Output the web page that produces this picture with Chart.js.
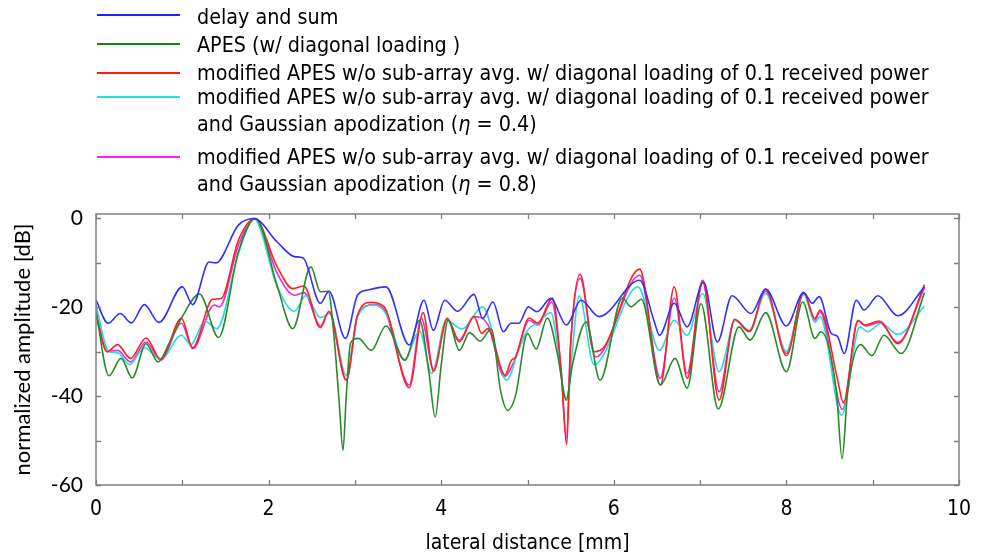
<!DOCTYPE html>
<html>
<head>
<meta charset="utf-8">
<script src="https://cdn.jsdelivr.net/npm/chart.js@4.4.1/dist/chart.umd.min.js"></script>
<style>
  body { margin: 0; background: #fff; }
  #wrap { position: relative; width: 986px; height: 558px; }
  #legend { position: absolute; left: 0; top: 0; width: 986px; height: 200px;
    font-family: "Liberation Sans Narrow", "DejaVu Sans Condensed", sans-serif; font-size: 21.3px; color: #000; }
  .txt { position: absolute; left: 197px; white-space: nowrap; line-height: 24px; }
  .sw { position: absolute; left: 97px; width: 83px; height: 2px; }
</style>
</head>
<body>
<div id="wrap">
  <canvas id="psfChart" width="986" height="558"></canvas>
  <div id="legend">
    <div class="sw" style="top:14px;background:#2020ff"></div>
    <div class="txt" style="top:5px">delay and sum</div>
    <div class="sw" style="top:43px;background:#1a801a"></div>
    <div class="txt" style="top:33px">APES (w/ diagonal loading )</div>
    <div class="sw" style="top:72px;background:#ff1a1a"></div>
    <div class="txt" style="top:61px">modified APES w/o sub-array avg. w/ diagonal loading of 0.1 received power</div>
    <div class="sw" style="top:96px;background:#1ee0e0"></div>
    <div class="txt" style="top:85px">modified APES w/o sub-array avg. w/ diagonal loading of 0.1 received power</div>
    <div class="txt" style="top:112px">and Gaussian apodization (<i>η</i> = 0.4)</div>
    <div class="sw" style="top:156px;background:#ff1aff"></div>
    <div class="txt" style="top:145px">modified APES w/o sub-array avg. w/ diagonal loading of 0.1 received power</div>
    <div class="txt" style="top:172px">and Gaussian apodization (<i>η</i> = 0.8)</div>
  </div>
</div>
<script>
// lateral beam profiles (extrema + a few shoulders)
const dasX = [0, 0.14, 0.28, 0.41, 0.56, 0.73, 1.0, 1.12, 1.31, 1.39, 1.65, 1.83, 2.1, 2.3, 2.4, 2.6, 2.7, 2.89, 3.03, 3.15, 3.36, 3.63, 3.8, 3.91, 4.04, 4.19, 4.38, 4.48, 4.6, 4.72, 4.81, 4.9, 5.01, 5.11, 5.27, 5.45, 5.62, 5.83, 6.3, 6.47, 6.53, 6.7, 6.85, 7.04, 7.2, 7.37, 7.59, 7.76, 8.0, 8.2, 8.3, 8.38, 8.52, 8.59, 8.67, 8.81, 8.9, 9.06, 9.29, 9.6];
const dasY = [-18.4, -23.6, -21.4, -23.5, -19.4, -23.4, -15.4, -19.4, -9.8, -10, -1.5, 0, -5.3, -8.6, -8.9, -19.1, -16.4, -27, -17.3, -16.1, -15.4, -28.5, -18.4, -25.2, -18.4, -20.9, -17.1, -22.5, -18.8, -25.5, -23.6, -23.6, -19.9, -21, -18, -24, -18.4, -22.1, -13.9, -23.3, -26.3, -19.1, -24.4, -14.3, -27.8, -17.4, -21.4, -15.9, -24.2, -16.7, -19.1, -17.6, -25.9, -26.5, -30.4, -18.4, -20.6, -17.4, -21.9, -15.4];

const apesX = [0, 0.15, 0.29, 0.42, 0.58, 0.72, 0.84, 1.0, 1.2, 1.42, 1.65, 1.85, 2.1, 2.28, 2.49, 2.6, 2.69, 2.76, 2.82, 2.862, 2.9, 2.95, 3.04, 3.19, 3.36, 3.58, 3.75, 3.86, 3.93, 4.0, 4.08, 4.21, 4.33, 4.45, 4.58, 4.69, 4.77, 4.86, 5.0, 5.1, 5.23, 5.35, 5.45, 5.52, 5.68, 5.84, 6.1, 6.2, 6.32, 6.54, 6.71, 6.85, 7.01, 7.21, 7.45, 7.58, 7.76, 8.0, 8.19, 8.33, 8.4, 8.58, 8.645, 8.71, 8.86, 8.99, 9.13, 9.33, 9.6];
const apesY = [-21, -35.4, -31.5, -35.9, -28.2, -32.3, -28.4, -22.1, -17, -26.8, -7.5, 0, -15.2, -24.8, -10.9, -16.5, -16.4, -27, -42, -52.2, -40, -28, -27, -29.7, -24.2, -31.9, -22.9, -35, -44.7, -33, -22.9, -29.7, -25.7, -27.6, -24.9, -39, -43.2, -40, -25.9, -29.4, -22.4, -30.8, -40.9, -33, -23.3, -36.4, -17.9, -19.9, -18.2, -37.5, -31.5, -38.2, -19.2, -42.9, -24.4, -27.4, -21.2, -34.5, -18.8, -27, -25.5, -39, -54.1, -39, -28.4, -30.9, -26.3, -30.4, -16.7];

const modX = [0, 0.13, 0.25, 0.4, 0.58, 0.75, 0.99, 1.12, 1.35, 1.45, 1.65, 1.84, 2.1, 2.28, 2.41, 2.6, 2.7, 2.9, 3.03, 3.18, 3.34, 3.63, 3.79, 3.91, 4.07, 4.21, 4.38, 4.47, 4.54, 4.74, 4.81, 4.86, 5.02, 5.12, 5.29, 5.39, 5.454, 5.5, 5.61, 5.77, 5.89, 6.3, 6.54, 6.7, 6.85, 7.03, 7.22, 7.4, 7.57, 7.76, 8.0, 8.2, 8.33, 8.39, 8.59, 8.66, 8.83, 8.91, 9.08, 9.29, 9.6];
const modY = [-21.8, -30, -28.4, -31.5, -26.9, -31.7, -22.5, -29.1, -18.2, -18, -4.9, 0, -10.9, -15.8, -15.2, -24.6, -20.9, -36.4, -21.8, -18.9, -19.9, -38.1, -21.2, -34.4, -22.5, -27.8, -22.1, -25.9, -24.8, -35.3, -32, -31.2, -22.4, -23.6, -17.9, -34.5, -50.9, -28.5, -12.6, -30, -28.9, -11.4, -37.5, -15.4, -36, -13.9, -40.9, -22.7, -25.4, -15.9, -30.9, -16.7, -22.5, -20.6, -36, -41.5, -22.9, -24, -23.1, -28.2, -14.9];

const gau04X = [0, 0.15, 0.25, 0.39, 0.56, 0.75, 0.99, 1.1, 1.26, 1.4, 1.65, 1.83, 2.1, 2.3, 2.43, 2.6, 2.71, 2.9, 3.03, 3.22, 3.38, 3.57, 3.75, 3.89, 4.06, 4.24, 4.48, 4.76, 4.89, 5.0, 5.12, 5.27, 5.45, 5.6, 5.77, 6.28, 6.53, 6.7, 6.85, 7.03, 7.22, 7.41, 7.57, 7.76, 8.0, 8.2, 8.33, 8.39, 8.64, 8.85, 8.94, 9.1, 9.29, 9.6];
const gau04Y = [-19.5, -30, -30.2, -32.9, -29.1, -31.7, -26.3, -28.4, -23.1, -24.8, -7.9, 0, -15.4, -20.9, -17.4, -22.3, -21.4, -35.3, -22.1, -19.5, -22.1, -31.9, -25.4, -34.9, -22.9, -24.9, -19.9, -36.4, -30, -25.2, -23.5, -21.2, -40.4, -17.4, -32.9, -15.4, -29.7, -22.9, -26.3, -16.9, -34.5, -22.9, -25.2, -16.9, -29.9, -17.1, -23.4, -22.1, -44.3, -24.4, -25.5, -23.6, -26.1, -19.7];

const gau08X = [0, 0.13, 0.25, 0.4, 0.58, 0.75, 0.99, 1.12, 1.37, 1.43, 1.65, 1.84, 2.1, 2.3, 2.41, 2.6, 2.7, 2.9, 3.03, 3.22, 3.34, 3.63, 3.77, 3.91, 4.07, 4.21, 4.38, 4.54, 4.73, 4.86, 5.02, 5.12, 5.28, 5.39, 5.45, 5.5, 5.61, 5.79, 6.3, 6.54, 6.7, 6.85, 7.03, 7.22, 7.4, 7.57, 7.76, 8.0, 8.2, 8.33, 8.39, 8.65, 8.83, 8.92, 9.08, 9.29, 9.6];
const gau08Y = [-21, -30, -29.7, -32.3, -27.8, -31.9, -23.6, -29.3, -19.5, -19.9, -6, 0, -12.4, -17.3, -16.7, -24.2, -21, -36.4, -22, -19.4, -20.5, -37.5, -22.5, -33.8, -22.7, -27.4, -22.1, -23.9, -35.6, -31.5, -22.9, -24, -18.8, -34, -49.5, -28, -13.5, -31.2, -12.8, -36, -17.9, -34.9, -14.4, -39, -22.9, -25.5, -16.4, -30.4, -16.9, -22.9, -21, -43, -23.1, -24.2, -23.4, -27.9, -15.6];

const yTicks = [-60, -50, -40, -30, -20, -10, 0];

function pts(xs, ys) {
    return xs.map((x, i) => ({ x: x, y: ys[i] }));
}

function line(label, xs, ys, color) {
    return {
        label: label,
        data: pts(xs, ys),
        borderColor: color,
        borderWidth: 1.6,
        pointRadius: 0,
        cubicInterpolationMode: 'monotone',
        fill: false
    };
}

// gnuplot-like box with inward ticks on all four sides
const framePlugin = {
    id: 'frame',
    afterDraw(chart) {
        const { ctx, chartArea: a, scales } = chart;
        ctx.save();
        ctx.strokeStyle = '#808080';
        ctx.lineWidth = 1.5;
        ctx.strokeRect(a.left, a.top, a.right - a.left, a.bottom - a.top);
        ctx.lineWidth = 1.3;
        ctx.beginPath();
        scales.x.ticks.forEach(t => {
            const px = Math.round(scales.x.getPixelForValue(t.value)) + 0.5;
            ctx.moveTo(px, a.bottom); ctx.lineTo(px, a.bottom - 5);
            ctx.moveTo(px, a.top); ctx.lineTo(px, a.top + 5);
        });
        scales.y.ticks.forEach(t => {
            const py = Math.round(scales.y.getPixelForValue(t.value)) + 0.5;
            ctx.moveTo(a.left, py); ctx.lineTo(a.left + 5, py);
            ctx.moveTo(a.right, py); ctx.lineTo(a.right - 5, py);
        });
        ctx.stroke();
        ctx.restore();
    }
};

const narrow = '"Liberation Sans Narrow", "DejaVu Sans Condensed", sans-serif';

document.addEventListener('DOMContentLoaded', () => {
    const ctx = document.getElementById('psfChart').getContext('2d');
    new Chart(ctx, {
        type: 'line',
        data: {
            datasets: [
                line('delay and sum', dasX, dasY, '#3030ff'),
                line('APES (w/ diagonal loading )', apesX, apesY, '#2a8a2a'),
                line('modified APES w/o sub-array avg. w/ diagonal loading of 0.1 received power', modX, modY, '#ff2020'),
                line('+ Gaussian apodization (η = 0.4)', gau04X, gau04Y, '#30d8d8'),
                line('+ Gaussian apodization (η = 0.8)', gau08X, gau08Y, '#e030e0')
            ]
        },
        options: {
            responsive: false,
            devicePixelRatio: 1,
            animation: false,
            layout: { padding: { left: 0, top: 214, right: 27, bottom: 0 } },
            plugins: { legend: { display: false }, tooltip: { enabled: false } },
            scales: {
                x: {
                    type: 'linear',
                    min: 0,
                    max: 10,
                    afterFit: s => { s.height = 73; },
                    grid: { display: false, drawTicks: false },
                    border: { display: false },
                    ticks: {
                        stepSize: 1,
                        padding: 12,
                        maxRotation: 0,
                        autoSkip: false,
                        color: '#000',
                        font: { family: narrow, size: 21 },
                        callback: v => (v % 2 === 0 ? v : '')
                    },
                    title: {
                        display: true,
                        text: 'lateral distance [mm]',
                        color: '#000',
                        font: { family: narrow, size: 21 },
                        padding: 2
                    }
                },
                y: {
                    min: -60,
                    max: 1,
                    afterFit: s => { s.width = 96; },
                    afterBuildTicks: s => { s.ticks = yTicks.map(v => ({ value: v })); },
                    grid: { display: false, drawTicks: false },
                    border: { display: false },
                    ticks: {
                        padding: 13,
                        color: '#000',
                        font: { family: 'Lato, "Open Sans", sans-serif', size: 21 },
                        callback: v => (v % 20 === 0 ? v : '')
                    },
                    title: {
                        display: true,
                        text: 'normalized amplitude [dB]',
                        color: '#000',
                        font: { family: 'Lato, "Open Sans", sans-serif', size: 22 },
                        padding: 10
                    }
                }
            }
        },
        plugins: [framePlugin]
    });
});
</script>
</body>
</html>
